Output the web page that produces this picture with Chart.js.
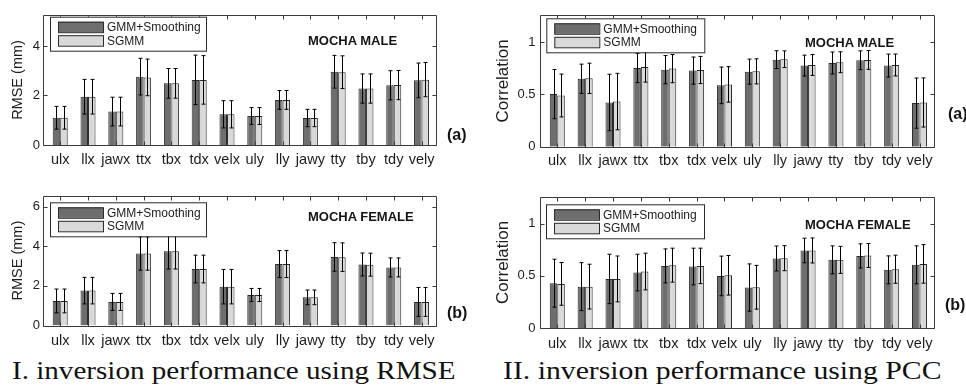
<!DOCTYPE html>
<html>
<head>
<meta charset="utf-8">
<script src="https://cdn.jsdelivr.net/npm/chart.js@4.4.1/dist/chart.umd.min.js"></script>
<style>
  body { margin: 0; width: 966px; height: 388px; overflow: hidden; background: #fff; position: relative; font-family: "Liberation Sans", Arial, sans-serif; }
  canvas { position: absolute; }
  .lab { position: absolute; font-weight: bold; color: #141414; white-space: nowrap; line-height: 1; }
  .cap { position: absolute; font-family: "Liberation Serif", serif; font-size: 26px; line-height: 1; white-space: nowrap; transform-origin: 0 0; color: #111; }
</style>
</head>
<body>
<canvas id="rmseMale" width="483" height="175" style="left:0;top:0"></canvas>
<canvas id="rmseFemale" width="483" height="180" style="left:0;top:175px"></canvas>
<canvas id="pccMale" width="483" height="175" style="left:483px;top:0"></canvas>
<canvas id="pccFemale" width="483" height="180" style="left:483px;top:175px"></canvas>

<div class="lab" style="left:308px;top:34.3px;font-size:13px">MOCHA MALE</div>
<div class="lab" style="left:447px;top:127px;font-size:16px">(a)</div>
<div class="lab" style="left:308px;top:210.3px;font-size:13px">MOCHA FEMALE</div>
<div class="lab" style="left:447px;top:304.5px;font-size:16px">(b)</div>
<div class="lab" style="left:805px;top:36.3px;font-size:13px">MOCHA MALE</div>
<div class="lab" style="left:948px;top:105.5px;font-size:16px">(a)</div>
<div class="lab" style="left:805px;top:217.6px;font-size:13px">MOCHA FEMALE</div>
<div class="lab" style="left:945px;top:297px;font-size:16px">(b)</div>

<div class="cap" id="cap1" data-w="443" style="left:11.7px;top:358.2px">I. inversion performance using RMSE</div>
<div class="cap" id="cap2" data-w="438" style="left:503px;top:358.2px">II. inversion performance using PCC</div>

<script>
const categories = ['ulx', 'llx', 'jawx', 'ttx', 'tbx', 'tdx', 'velx', 'uly', 'lly', 'jawy', 'tty', 'tby', 'tdy', 'vely'];
const seriesNames = ['GMM+Smoothing', 'SGMM'];

// RMSE (mm), MOCHA male
const rmseMaleGmm     = [1.10, 1.95, 1.35, 2.76, 2.49, 2.63, 1.24, 1.17, 1.82, 1.09, 2.96, 2.28, 2.41, 2.61];
const rmseMaleGmmSd   = [0.46, 0.70, 0.58, 0.74, 0.60, 1.00, 0.55, 0.34, 0.38, 0.35, 0.66, 0.59, 0.59, 0.70];
const rmseMaleSgmm    = [1.10, 1.95, 1.35, 2.73, 2.49, 2.63, 1.24, 1.17, 1.82, 1.09, 2.94, 2.28, 2.42, 2.64];
const rmseMaleSgmmSd  = [0.46, 0.70, 0.58, 0.74, 0.60, 0.98, 0.55, 0.34, 0.38, 0.35, 0.66, 0.59, 0.59, 0.69];

// RMSE (mm), MOCHA female
const rmseFemaleGmm    = [1.24, 1.76, 1.19, 3.63, 3.75, 2.85, 1.96, 1.54, 3.10, 1.42, 3.46, 3.08, 2.93, 1.19];
const rmseFemaleGmmSd  = [0.60, 0.67, 0.43, 0.84, 0.90, 0.70, 0.87, 0.33, 0.68, 0.37, 0.72, 0.58, 0.48, 0.73];
const rmseFemaleSgmm   = [1.24, 1.76, 1.19, 3.63, 3.75, 2.85, 1.96, 1.54, 3.10, 1.42, 3.45, 3.07, 2.93, 1.19];
const rmseFemaleSgmmSd = [0.60, 0.67, 0.43, 0.84, 0.90, 0.70, 0.87, 0.33, 0.68, 0.37, 0.72, 0.58, 0.48, 0.73];

// correlation, MOCHA male
const pccMaleGmm     = [0.503, 0.650, 0.423, 0.753, 0.737, 0.728, 0.587, 0.718, 0.833, 0.776, 0.801, 0.827, 0.776, 0.417];
const pccMaleGmmSd   = [0.235, 0.140, 0.270, 0.140, 0.135, 0.130, 0.175, 0.120, 0.085, 0.100, 0.105, 0.090, 0.110, 0.240];
const pccMaleSgmm    = [0.490, 0.654, 0.432, 0.763, 0.747, 0.734, 0.596, 0.721, 0.837, 0.782, 0.808, 0.830, 0.782, 0.423];
const pccMaleSgmmSd  = [0.205, 0.145, 0.270, 0.145, 0.135, 0.130, 0.170, 0.120, 0.080, 0.100, 0.100, 0.090, 0.105, 0.235];

// correlation, MOCHA female
const pccFemaleGmm    = [0.430, 0.397, 0.471, 0.532, 0.596, 0.590, 0.500, 0.388, 0.667, 0.744, 0.654, 0.692, 0.558, 0.606];
const pccFemaleGmmSd  = [0.230, 0.230, 0.237, 0.176, 0.163, 0.176, 0.190, 0.227, 0.120, 0.118, 0.134, 0.116, 0.134, 0.182];
const pccFemaleSgmm   = [0.423, 0.397, 0.471, 0.542, 0.603, 0.596, 0.506, 0.391, 0.670, 0.744, 0.654, 0.696, 0.564, 0.615];
const pccFemaleSgmmSd = [0.205, 0.215, 0.220, 0.176, 0.163, 0.170, 0.190, 0.210, 0.120, 0.120, 0.130, 0.115, 0.135, 0.185];

const rmseMaleTicks = [0, 2, 4];
const rmseFemaleTicks = [0, 2, 4, 6];
const pccTicks = [0, 0.5, 1];

const DARK = '#6e6e6e', LIGHT = '#d9d9d9', INK = '#1c1c1c';

// box round the axes with inward tick marks on every side (matlab style)
const framePlugin = {
  id: 'frame',
  afterDatasetsDraw(chart) {
    const { ctx, chartArea: a, scales: { x, y } } = chart;
    const L = Math.round(a.left) + 0.5, R = Math.round(a.right) + 0.5;
    const T = Math.round(a.top) + 0.5, B = Math.round(a.bottom) + 0.5;
    ctx.save();
    ctx.strokeStyle = '#3a3a3a';
    ctx.lineWidth = 1;
    ctx.beginPath();
    ctx.rect(L, T, R - L, B - T);
    x.ticks.forEach(t => {
      const px = Math.round(x.getPixelForValue(t.value)) + 0.5;
      ctx.moveTo(px, B); ctx.lineTo(px, B - 4);
      ctx.moveTo(px, T); ctx.lineTo(px, T + 4);
    });
    y.ticks.forEach(t => {
      const py = Math.round(y.getPixelForValue(t.value)) + 0.5;
      ctx.moveTo(L, py); ctx.lineTo(L + 4, py);
      ctx.moveTo(R, py); ctx.lineTo(R - 4, py);
    });
    ctx.stroke();
    ctx.restore();
  }
};

// +/- one standard deviation on each bar
const errorBarPlugin = {
  id: 'errorBars',
  afterDatasetsDraw(chart, args, opts) {
    const { ctx, scales: { y } } = chart;
    ctx.save();
    ctx.strokeStyle = '#000';
    ctx.lineWidth = 1;
    chart.data.datasets.forEach((ds, i) => {
      const sd = opts.sd[i];
      chart.getDatasetMeta(i).data.forEach((bar, j) => {
        const v = ds.data[j].y;
        const px = Math.round(bar.x) + 0.5;
        const top = y.getPixelForValue(v + sd[j]);
        const bot = y.getPixelForValue(v - sd[j]);
        ctx.beginPath();
        ctx.moveTo(px, top); ctx.lineTo(px, bot);
        ctx.moveTo(px - 2, top); ctx.lineTo(px + 2, top);
        ctx.moveTo(px - 2, bot); ctx.lineTo(px + 2, bot);
        ctx.stroke();
      });
    });
    ctx.restore();
  }
};

// boxed legend in the upper left of the axes
const boxLegendPlugin = {
  id: 'boxLegend',
  afterDraw(chart, args, o) {
    const ctx = chart.ctx;
    ctx.save();
    ctx.fillStyle = '#fff';
    ctx.strokeStyle = '#2a2a2a';
    ctx.lineWidth = 1;
    ctx.fillRect(o.x, o.y, o.w, o.h);
    ctx.strokeRect(o.x + 0.5, o.y + 0.5, o.w, o.h);
    ctx.font = '12px "Liberation Sans", Arial, sans-serif';
    ctx.textBaseline = 'middle';
    chart.data.datasets.forEach((ds, i) => {
      const sy = o.y + 5 + i * 13.5;
      ctx.fillStyle = ds.backgroundColor;
      ctx.fillRect(o.x + 8, sy, 45, 10.5);
      ctx.strokeRect(o.x + 8.5, sy + 0.5, 45, 10.5);
      ctx.fillStyle = INK;
      ctx.fillText(ds.label, o.x + 57, sy + 6);
    });
    ctx.restore();
  }
};

function makePanel(id, gmm, gmmSd, sgmm, sgmmSd, yTicks, yMax, yTitle, box) {
  const pts = vals => categories.map((c, i) => ({ x: i + 1, y: vals[i] }));
  return new Chart(document.getElementById(id), {
    type: 'bar',
    data: {
      datasets: [
        { label: seriesNames[0], data: pts(gmm), backgroundColor: DARK, borderColor: '#2a2a2a', borderWidth: 1 },
        { label: seriesNames[1], data: pts(sgmm), backgroundColor: LIGHT, borderColor: '#2a2a2a', borderWidth: 1 }
      ]
    },
    options: {
      responsive: false,
      animation: false,
      devicePixelRatio: 1,
      categoryPercentage: 0.54,
      barPercentage: 1,
      layout: { padding: { left: 0, top: box.padTop, right: box.padRight, bottom: 0 } },
      plugins: {
        legend: { display: false },
        tooltip: { enabled: false },
        errorBars: { sd: [gmmSd, sgmmSd] },
        boxLegend: box.legend
      },
      scales: {
        x: {
          type: 'linear',
          offset: false,
          min: 0.38,
          max: 14.52,
          grid: { display: false, drawTicks: false },
          border: { display: false },
          afterBuildTicks: s => { s.ticks = categories.map((c, i) => ({ value: i + 1 })); },
          afterFit: s => { s.height = box.xHeight; },
          ticks: {
            autoSkip: false, maxRotation: 0, minRotation: 0,
            padding: box.xPad, color: INK,
            font: { family: '"Liberation Sans", Arial, sans-serif', size: 14.5 },
            callback: v => categories[v - 1] || ''
          }
        },
        y: {
          min: 0,
          max: yMax,
          grid: { display: false, drawTicks: false },
          border: { display: false },
          afterBuildTicks: s => { s.ticks = yTicks.map(v => ({ value: v })); },
          afterFit: s => { s.width = box.yWidth; },
          ticks: {
            padding: box.yPad, color: INK,
            font: { family: '"Liberation Sans", Arial, sans-serif', size: 13 },
            callback: v => String(v)
          },
          title: {
            display: true, text: yTitle, color: INK,
            padding: { top: box.titlePad, bottom: 0 },
            font: { family: '"Liberation Sans", Arial, sans-serif', size: box.titleSize }
          }
        }
      }
    },
    plugins: [errorBarPlugin, framePlugin, boxLegendPlugin]
  });
}

makePanel('rmseMale', rmseMaleGmm, rmseMaleGmmSd, rmseMaleSgmm, rmseMaleSgmmSd, rmseMaleTicks, 5.25, 'RMSE (mm)',
  { padTop: 15, padRight: 47, xHeight: 30, yWidth: 43, xPad: 6, yPad: 3, titlePad: 9.5, titleSize: 14.5,
    legend: { x: 50, y: 16.7, w: 156, h: 34 } });
makePanel('rmseFemale', rmseFemaleGmm, rmseFemaleGmmSd, rmseFemaleSgmm, rmseFemaleSgmmSd, rmseFemaleTicks, 6.55, 'RMSE (mm)',
  { padTop: 20.7, padRight: 47, xHeight: 29.5, yWidth: 43, xPad: 7, yPad: 3, titlePad: 9.5, titleSize: 14.5,
    legend: { x: 50, y: 27.3, w: 156, h: 34 } });
makePanel('pccMale', pccMaleGmm, pccMaleGmmSd, pccMaleSgmm, pccMaleSgmmSd, pccTicks, 1.26, 'Correlation',
  { padTop: 15, padRight: 32, xHeight: 28.3, yWidth: 57, xPad: 6, yPad: 4.5, titlePad: 10, titleSize: 17,
    legend: { x: 63.3, y: 18.3, w: 158, h: 34 } });
makePanel('pccFemale', pccFemaleGmm, pccFemaleGmmSd, pccFemaleSgmm, pccFemaleSgmmSd, pccTicks, 1.26, 'Correlation',
  { padTop: 21.7, padRight: 32, xHeight: 27, yWidth: 57, xPad: 7, yPad: 4.5, titlePad: 10, titleSize: 17,
    legend: { x: 63, y: 29.3, w: 158, h: 34 } });

// stretch the captions to the width they have in the figure
document.querySelectorAll('.cap').forEach(el => {
  el.style.transform = 'scaleX(' + (el.dataset.w / el.offsetWidth) + ')';
});
</script>
</body>
</html>
